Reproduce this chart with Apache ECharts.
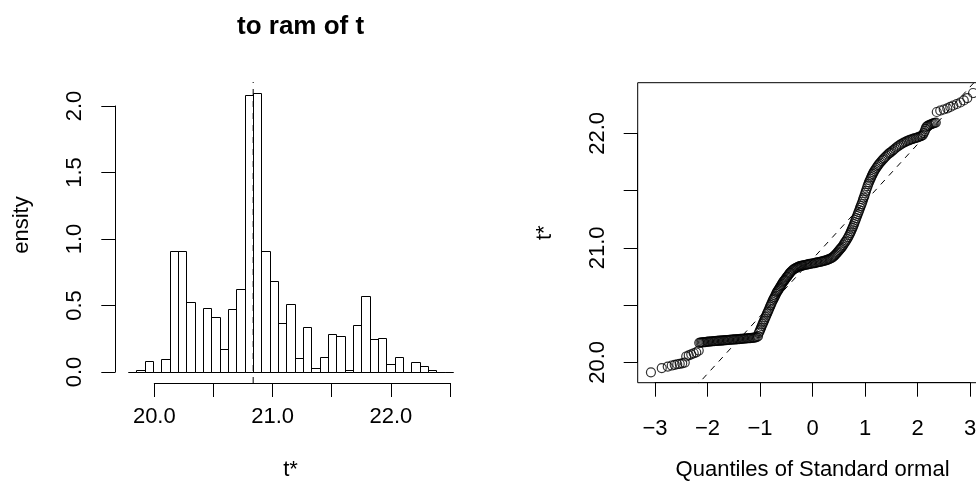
<!DOCTYPE html>
<html><head><meta charset="utf-8">
<script src="https://cdn.jsdelivr.net/npm/echarts@6/dist/echarts.min.js"></script>
<style>html,body{margin:0;padding:0;background:#fff}#c{width:976px;height:490px}</style>
</head><body><div id="c"></div>
<script>
// ---------- data ----------
const histBreaks = [19.780, 19.850, 19.921, 19.991, 20.061, 20.132, 20.202, 20.272, 20.342, 20.413,
  20.483, 20.553, 20.624, 20.694, 20.764, 20.835, 20.905, 20.975, 21.045, 21.116,
  21.186, 21.256, 21.327, 21.397, 21.467, 21.538, 21.608, 21.678, 21.748, 21.819,
  21.889, 21.959, 22.030, 22.100, 22.170, 22.241, 22.311, 22.381, 22.451, 22.522];
const histDensity = [0, 0.014, 0.085, 0, 0.099, 0.910, 0.910, 0.527, 0, 0.483,
  0.413, 0.170, 0.470, 0.626, 2.084, 2.097, 0.910, 0.683, 0.370, 0.512,
  0.101, 0.341, 0.028, 0.114, 0.285, 0.270, 0.014, 0.356, 0.568, 0.245,
  0.257, 0.057, 0.114, 0, 0.071, 0.043, 0.014, 0, 0];
const t0 = 20.836;

const qqTheoretical = [
  // lower tail
  -3.078, -2.872, -2.758, -2.682, -2.625, -2.577, -2.530, -2.482, -2.434,
  -2.406, -2.358, -2.310, -2.263, -2.215, -2.168,
  // flat run near 20.2
  -2.158, -2.134, -2.110, -2.087, -2.063, -2.039, -2.015, -1.991, -1.968, -1.944, -1.920, -1.896,
  -1.872, -1.849, -1.825, -1.801, -1.777, -1.753, -1.730, -1.706, -1.682, -1.658, -1.634, -1.611,
  -1.587, -1.563, -1.539, -1.515, -1.491, -1.468, -1.444, -1.420, -1.396, -1.372, -1.349, -1.325,
  -1.301, -1.277, -1.253, -1.230, -1.206, -1.182, -1.158, -1.134, -1.110, -1.087, -1.063, -1.039,
  // steep rise
  -1.025, -1.010, -0.996, -0.982, -0.968, -0.953, -0.939, -0.925, -0.910, -0.896, -0.882, -0.868,
  -0.853, -0.839, -0.825, -0.810, -0.796, -0.782, -0.768, -0.753, -0.739, -0.725, -0.710, -0.696,
  -0.682, -0.668, -0.653, -0.639, -0.625, -0.611, -0.596, -0.582, -0.568, -0.553, -0.539, -0.525,
  -0.510, -0.496, -0.482, -0.468, -0.453, -0.439, -0.425, -0.406, -0.387, -0.368, -0.349, -0.330,
  -0.310, -0.291, -0.272, -0.253, -0.234,
  // middle and upper section
  -0.215, -0.196, -0.172, -0.149, -0.125, -0.101, -0.077, -0.053, -0.030, -0.006, 0.018, 0.042,
  0.066, 0.090, 0.113, 0.137, 0.161, 0.185, 0.208, 0.232, 0.256, 0.280, 0.304, 0.328,
  0.352, 0.375, 0.394, 0.413, 0.432, 0.451, 0.470, 0.490, 0.509, 0.528, 0.547, 0.566,
  0.585, 0.604, 0.623, 0.642, 0.661, 0.680, 0.699, 0.718, 0.732, 0.747, 0.761, 0.775,
  0.790, 0.804, 0.818, 0.832, 0.847, 0.861, 0.875, 0.890, 0.904, 0.918, 0.933, 0.947,
  0.961, 0.975, 0.990, 1.004, 1.018, 1.032, 1.047, 1.061, 1.075, 1.090, 1.104, 1.118,
  1.132, 1.147, 1.161, 1.175, 1.194, 1.213, 1.232, 1.251, 1.270, 1.290, 1.313, 1.337,
  1.361, 1.385, 1.408, 1.432, 1.456, 1.480, 1.508, 1.537, 1.566, 1.594, 1.623, 1.651,
  1.680, 1.709, 1.737, 1.766, 1.794, 1.823, 1.851, 1.880, 1.908, 1.937, 1.966, 1.994,
  2.022, 2.051, 2.075, 2.099, 2.118, 2.137, 2.152, 2.166, 2.185, 2.204, 2.228, 2.251,
  2.275, 2.299, 2.323, 2.347,
  // upper tail
  2.366, 2.432, 2.499, 2.566, 2.623, 2.680, 2.747, 2.813, 2.880, 2.947, 3.057];
const qqSample = [
  19.913, 19.950, 19.963, 19.972, 19.978, 19.983, 19.987, 19.991, 19.998,
  20.051, 20.061, 20.070, 20.079, 20.087, 20.103,
  20.170, 20.172, 20.174, 20.175, 20.176, 20.177, 20.178, 20.180, 20.181, 20.182, 20.183, 20.184,
  20.185, 20.186, 20.187, 20.188, 20.189, 20.190, 20.190, 20.191, 20.192, 20.193, 20.194, 20.195,
  20.196, 20.197, 20.198, 20.199, 20.200, 20.200, 20.201, 20.202, 20.203, 20.204, 20.205, 20.206,
  20.207, 20.208, 20.209, 20.210, 20.211, 20.212, 20.213, 20.214, 20.215, 20.217, 20.220, 20.228,
  20.256, 20.270, 20.286, 20.300, 20.317, 20.333, 20.348, 20.362, 20.378, 20.394, 20.409, 20.425,
  20.439, 20.454, 20.470, 20.486, 20.500, 20.515, 20.531, 20.545, 20.557, 20.570, 20.583, 20.597,
  20.610, 20.621, 20.631, 20.642, 20.653, 20.664, 20.675, 20.686, 20.697, 20.706, 20.714, 20.723,
  20.732, 20.741, 20.749, 20.758, 20.767, 20.776, 20.784, 20.793, 20.802, 20.809, 20.815, 20.820,
  20.825, 20.830, 20.834, 20.838, 20.841,
  20.843, 20.845, 20.847, 20.850, 20.852, 20.854, 20.857, 20.859, 20.861, 20.863, 20.865, 20.867,
  20.870, 20.872, 20.874, 20.876, 20.879, 20.882, 20.885, 20.888, 20.891, 20.895, 20.899, 20.904,
  20.909, 20.915, 20.922, 20.930, 20.939, 20.948, 20.958, 20.968, 20.979, 20.990, 21.000, 21.011,
  21.024, 21.038, 21.051, 21.064, 21.079, 21.094, 21.111, 21.129, 21.144, 21.160, 21.175, 21.190,
  21.207, 21.225, 21.243, 21.260, 21.278, 21.295, 21.312, 21.330, 21.348, 21.365, 21.382, 21.400,
  21.420, 21.439, 21.459, 21.479, 21.498, 21.518, 21.538, 21.557, 21.573, 21.588, 21.603, 21.618,
  21.632, 21.645, 21.658, 21.671, 21.684, 21.697, 21.710, 21.723, 21.734, 21.745, 21.758, 21.771,
  21.782, 21.793, 21.804, 21.815, 21.824, 21.832, 21.843, 21.854, 21.865, 21.876, 21.885, 21.894,
  21.903, 21.911, 21.918, 21.924, 21.931, 21.937, 21.942, 21.946, 21.951, 21.955, 21.959, 21.963,
  21.968, 21.972, 21.978, 21.985, 22.002, 22.020, 22.038, 22.055, 22.062, 22.068, 22.073, 22.077,
  22.082, 22.086, 22.090, 22.094,
  22.186, 22.199, 22.208, 22.217, 22.230, 22.243, 22.256, 22.269, 22.287, 22.308, 22.352];
const qqLineIntercept = 20.9025;
const qqLineSlope = 0.501;

const histXTickLabels = ['20.0', '21.0', '22.0'];
const histYTickLabels = ['0.0', '0.5', '1.0', '1.5', '2.0'];
const qqXTickLabels = ['\u22123', '\u22122', '\u22121', '0', '1', '2', '3'];
const qqYTickLabels = ['20.0', '21.0', '22.0'];

// ---------- chart ----------
const FONT = "'Liberation Sans', Arial, Helvetica, sans-serif";
const K = '#000';
const HX = [19.670, 22.632], HY = [-0.084, 2.181];
const QX = [-3.33, 3.33], QY = [19.822, 22.442];

const histData = histDensity.map((d, i) => [histBreaks[i], histBreaks[i + 1], d]);
const qqData = qqTheoretical.map((q, i) => [q, qqSample[i]]);

const pick1 = labels => v => { const s = v.toFixed(1); return labels.includes(s) ? s : ''; };
const pickQ = labels => v => { const r = Math.round(v); const s = r < 0 ? '\u2212' + Math.abs(r) : String(r); return labels.includes(s) ? s : ''; };

const tickAxisX = (grid, min, max, interval, offset, margin, fmt) => ({
  gridIndex: grid, type: 'value', min, max, interval, offset,
  axisLine: { show: true, onZero: false, lineStyle: { color: K, width: 1 } },
  axisTick: { show: true, length: 14, lineStyle: { color: K, width: 1 } },
  axisLabel: { margin, fontSize: 22, color: K, fontFamily: FONT, formatter: fmt, hideOverlap: false },
  splitLine: { show: false }
});
const tickAxisY = (grid, min, max, interval, offset, fmt) => ({
  gridIndex: grid, type: 'value', min, max, interval, offset,
  axisLine: { show: true, onZero: false, lineStyle: { color: K, width: 1 } },
  axisTick: { show: true, length: 14, lineStyle: { color: K, width: 1 } },
  axisLabel: { margin: 29, rotate: 90, fontSize: 22, color: K, fontFamily: FONT, formatter: fmt, hideOverlap: false },
  splitLine: { show: false }
});
const hiddenAxis = (grid, min, max, extra) => Object.assign({
  gridIndex: grid, type: 'value', min, max,
  axisLine: { show: false, onZero: false }, axisTick: { show: false }, axisLabel: { show: false }, splitLine: { show: false }
}, extra || {});
const G = { outerBoundsMode: 'none', containLabel: false };
const crisp = v => Math.round(v) + 0.5;

const chart = echarts.init(document.getElementById('c'), null, { renderer: 'canvas' });
chart.setOption({
  animation: false,
  backgroundColor: '#fff',
  textStyle: { fontFamily: FONT },
  title: {
    text: 'to ram of t', left: 237, top: 14, padding: 0,
    textStyle: { fontSize: 26, fontWeight: 'bold', color: K, fontFamily: FONT }
  },
  grid: [
    Object.assign({ left: 115, top: 82, width: 351, height: 301 }, G),
    Object.assign({ left: 154.3, top: 106, width: 295.7, height: 266 }, G),
    Object.assign({ left: 637.7, top: 82.7, width: 349.7, height: 300, show: true, borderColor: K, borderWidth: 1, backgroundColor: 'transparent' }, G),
    Object.assign({ left: 655.05, top: 133.3, width: 315, height: 229 }, G)
  ],
  xAxis: [
    hiddenAxis(0, HX[0], HX[1], { name: 't*', nameLocation: 'middle', nameGap: 76,
      nameTextStyle: { fontSize: 22, color: K, fontFamily: FONT } }),
    tickAxisX(1, 20, 22.5, 0.5, 11, 23, pick1(histXTickLabels)),
    hiddenAxis(2, QX[0], QX[1], { name: 'Quantiles of Standard ormal', nameLocation: 'middle', nameGap: 76,
      nameTextStyle: { fontSize: 22, color: K, fontFamily: FONT } }),
    tickAxisX(3, -3, 3, 1, 20.4, 35, pickQ(qqXTickLabels))
  ],
  yAxis: [
    hiddenAxis(0, HY[0], HY[1], { name: 'ensity', nameLocation: 'middle', nameRotate: 90, nameGap: 82,
      nameTextStyle: { fontSize: 22, color: K, fontFamily: FONT, padding: [0, 0, 0, 15] } }),
    tickAxisY(1, 0, 2, 0.5, 39, pick1(histYTickLabels)),
    hiddenAxis(2, QY[0], QY[1], { name: 't*', nameLocation: 'middle', nameRotate: 90, nameGap: 82,
      nameTextStyle: { fontSize: 22, color: K, fontFamily: FONT } }),
    tickAxisY(3, 20, 22, 0.5, 17.35, pick1(qqYTickLabels))
  ],
  series: [
    {
      type: 'custom', xAxisIndex: 0, yAxisIndex: 0, data: histData,
      renderItem: (params, api) => {
        const a = api.coord([api.value(0), api.value(2)]);
        const b = api.coord([api.value(1), 0]);
        const x0 = crisp(a[0]), x1 = crisp(b[0]), y0 = crisp(a[1]), y1 = crisp(b[1]);
        return { type: 'rect', shape: { x: x0, y: y0, width: x1 - x0, height: y1 - y0 },
          style: { fill: 'none', stroke: K, lineWidth: 1 } };
      }
    },
    {
      type: 'line', xAxisIndex: 0, yAxisIndex: 0, data: [[t0, HY[0]], [t0, HY[1]]],
      showSymbol: false, symbol: 'none', lineStyle: { color: K, width: 1, type: [6, 6] }, silent: true
    },
    {
      type: 'scatter', xAxisIndex: 2, yAxisIndex: 2, data: qqData, symbol: 'circle', symbolSize: 9,
      itemStyle: { color: 'rgba(0,0,0,0)', borderColor: K, borderWidth: 1.2 }, silent: true
    },
    {
      type: 'line', xAxisIndex: 2, yAxisIndex: 2,
      data: [[QX[0], qqLineIntercept + qqLineSlope * QX[0]], [QX[1], qqLineIntercept + qqLineSlope * QX[1]]],
      showSymbol: false, symbol: 'none', clip: true, lineStyle: { color: K, width: 1, type: [6, 6] }, silent: true
    }
  ]
});
</script>
</body></html>
